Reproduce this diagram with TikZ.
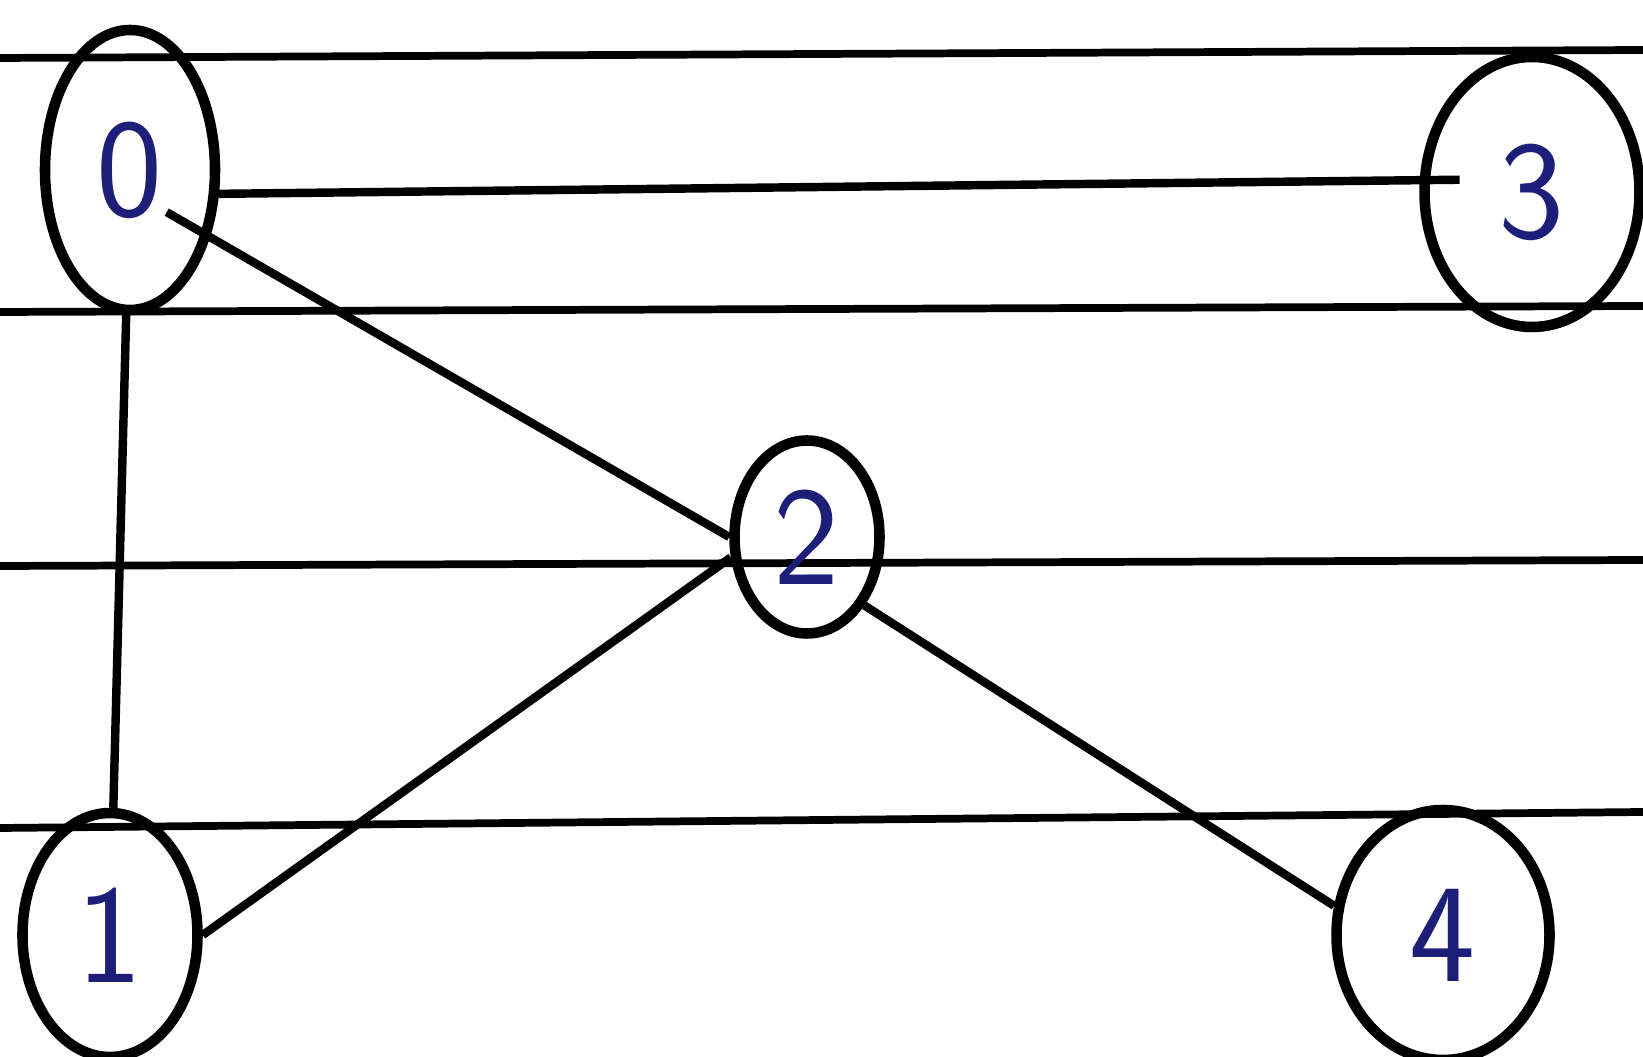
\documentclass[tikz,border=0pt]{standalone}
\usepackage{tikz}
\usetikzlibrary{shapes.geometric}
\definecolor{inkblue}{RGB}{28,30,120}

\begin{document}
\begin{tikzpicture}[
  vtx/.style={draw, ellipse, line width=3pt, inner sep=0pt, text=inkblue,
    font=\fontsize{40}{40}\selectfont\sffamily},
  rule/.style={line width=2.2pt},
  edge/.style={line width=2.4pt}]
\useasboundingbox (0,0) rectangle (16.43,10.57);
% ruled paper
\draw[rule] (0,9.99) -- (16.43,10.07);
\draw[rule] (0,7.45) -- (16.43,7.51);
\draw[rule] (0,4.91) -- (16.43,4.97);
\draw[rule] (0,2.29) -- (16.43,2.45);
% vertices
\node[vtx, minimum width=1.70cm, minimum height=2.80cm] (n0) at (1.30,8.87) {0};
\node[vtx, minimum width=2.15cm, minimum height=2.70cm] (n3) at (15.32,8.65) {3};
\node[vtx, minimum width=1.45cm, minimum height=1.93cm] (n2) at (8.07,5.20) {2};
\node[vtx, minimum width=1.75cm, minimum height=2.44cm] (n1) at (1.10,1.22) {1};
\node[vtx, minimum width=2.13cm, minimum height=2.50cm] (n4) at (14.43,1.22) {4};
% edges
\draw[edge, shorten >=-0.4cm] (n0.-15) -- (n3.174);
\draw[edge, shorten <=-0.5cm] (n0.-40) -- (n2.west);
\draw[edge] (n0) -- (n1);
\draw[edge] (n1.east) -- (n2.195);
\draw[edge] (n2.-50) -- (n4.165);
\end{tikzpicture}
\end{document}
